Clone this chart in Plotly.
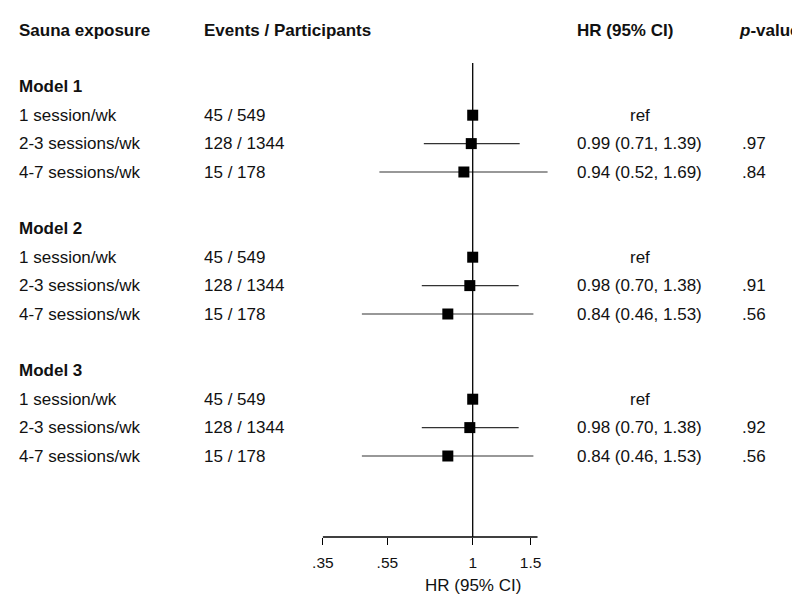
import plotly.graph_objects as go
import math

# ---------------- data ----------------
models = ["Model 1", "Model 2", "Model 3"]
exposures = ["1 session/wk", "2-3 sessions/wk", "4-7 sessions/wk"]
events = ["45 / 549", "128 / 1344", "15 / 178"]
hr_m1 = [1.00, 0.99, 0.94]
lo_m1 = [1.00, 0.71, 0.52]
hi_m1 = [1.00, 1.39, 1.69]
hr_m2 = [1.00, 0.98, 0.84]
lo_m2 = [1.00, 0.70, 0.46]
hi_m2 = [1.00, 1.38, 1.53]
hr_m3 = [1.00, 0.98, 0.84]
lo_m3 = [1.00, 0.70, 0.46]
hi_m3 = [1.00, 1.38, 1.53]
pval_m1 = ["", ".97", ".84"]
pval_m2 = ["", ".91", ".56"]
pval_m3 = ["", ".92", ".56"]
tick_vals = [0.35, 0.55, 1, 1.5]
tick_text = [".35", ".55", "1", "1.5"]

hrs = [hr_m1, hr_m2, hr_m3]
los = [lo_m1, lo_m2, lo_m3]
his = [hi_m1, hi_m2, hi_m3]
pvals = [pval_m1, pval_m2, pval_m3]

# page body has an 8px margin: work in screen pixels, convert to figure pixels
OFF = 8
W, H = 800 - OFF, 607 - OFF
FONT = "Liberation Sans, Arial, sans-serif"
FS = 17
TXT = "#111111"

ys, xs, err_p, err_m = [], [], [], []
annotations = []

def px(sx):
    return (sx - OFF) / W

def add_text(sx, k, text, anchor="left", size=FS, yshift=0):
    annotations.append(dict(x=px(sx), y=k, xref="paper", yref="y", text=text,
                            showarrow=False, xanchor=anchor, yanchor="middle",
                            yshift=yshift, borderpad=0, borderwidth=0,
                            font=dict(family=FONT, size=size, color=TXT)))

# header
add_text(19, 0, "<b>Sauna exposure</b>")
add_text(204, 0, "<b>Events / Participants</b>")
add_text(577, 0, "<b>HR (95% CI)</b>")
add_text(800, 0, "<b><i>p</i>-value</b>", anchor="right")

for m, name in enumerate(models):
    kl = 2 + 5 * m
    add_text(19, kl, "<b>%s</b>" % name)
    for i, ex in enumerate(exposures):
        k = kl + 1 + i
        add_text(19, k, ex)
        add_text(204, k, events[i])
        h, l, u = hrs[m][i], los[m][i], his[m][i]
        if i == 0:
            add_text(640, k, "ref", anchor="center")
        else:
            add_text(577, k, "%.2f (%.2f, %.2f)" % (h, l, u))
            add_text(742, k, pvals[m][i])
        ys.append(k)
        xs.append(h)
        err_p.append(u - h)
        err_m.append(h - l)

fig = go.Figure()
fig.add_trace(go.Scatter(
    x=xs, y=ys, mode="markers",
    marker=dict(symbol="square", size=11, color="black", line=dict(width=0)),
    error_x=dict(type="data", symmetric=False, array=err_p, arrayminus=err_m,
                 width=0, thickness=1.1, color="#333333"),
    showlegend=False, hoverinfo="skip"))

# pixel geometry (screen pixels)
x_one = 472.7 - OFF     # figure pixel of HR = 1
ppl = 142.7             # pixels per natural-log unit
axis_y = 537 - OFF
row0 = 30 - OFF
row_step = 28.4

xr = [(-x_one / ppl) / math.log(10), ((W - x_one) / ppl) / math.log(10)]
yr = [(axis_y - row0) / row_step, (0 - row0) / row_step]

fig.add_shape(type="line", xref="x", yref="paper", x0=0.35, x1=1.575, y0=0, y1=0,
              line=dict(color="black", width=1.3))
fig.add_shape(type="line", xref="x", yref="y", x0=1, x1=1,
              y0=(63 - OFF - row0) / row_step, y1=yr[0],
              line=dict(color="black", width=1.3))

annotations.append(dict(x=0, y=-48 / axis_y, xref="x", yref="paper",
                        text="HR (95% CI)", showarrow=False,
                        xanchor="center", yanchor="middle",
                        font=dict(family=FONT, size=FS, color=TXT)))

fig.update_layout(
    width=W, height=H,
    margin=dict(l=0, r=0, t=0, b=H - axis_y, pad=0),
    paper_bgcolor="white", plot_bgcolor="white",
    xaxis=dict(type="log", range=xr, showgrid=False, zeroline=False, showline=False,
               tickmode="array", tickvals=tick_vals, ticktext=tick_text,
               ticks="outside", ticklen=7, tickwidth=1.3, tickcolor="black",
               ticklabelstandoff=4,
               tickfont=dict(family=FONT, size=15.5, color=TXT), fixedrange=True),
    yaxis=dict(range=yr, showgrid=False, zeroline=False, showline=False,
               showticklabels=False, ticks="", fixedrange=True),
    annotations=annotations,
    showlegend=False,
)

fig.write_html("out.html")
